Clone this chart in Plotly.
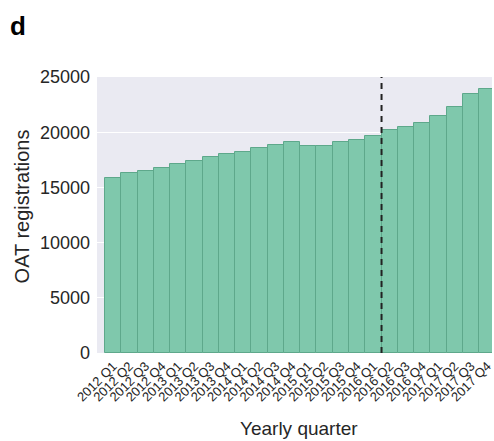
import plotly.graph_objects as go

# Quarterly OAT registrations, 2012 Q1 - 2017 Q4
quarters = [
    "2012 Q1", "2012 Q2", "2012 Q3", "2012 Q4",
    "2013 Q1", "2013 Q2", "2013 Q3", "2013 Q4",
    "2014 Q1", "2014 Q2", "2014 Q3", "2014 Q4",
    "2015 Q1", "2015 Q2", "2015 Q3", "2015 Q4",
    "2016 Q1", "2016 Q2", "2016 Q3", "2016 Q4",
    "2017 Q1", "2017 Q2", "2017 Q3", "2017 Q4",
]
registrations = [
    15860, 16270, 16500, 16800,
    17130, 17400, 17710, 17990,
    18240, 18530, 18830, 19130,
    18740, 18710, 19070, 19280,
    19690, 20190, 20490, 20830,
    21430, 22250, 23460, 23880,
]
y_ticks = [0, 5000, 10000, 15000, 20000, 25000]

# Position of the dashed marker (between 2016 Q1 and 2016 Q2)
marker_after = "2016 Q1"

W, H = 494, 441
L, R, T, B = 97, 0, 77, 88
FONT = "Liberation Sans, Arial, sans-serif"
TEXT = "#262626"

x_idx = list(range(len(quarters)))
split = quarters.index(marker_after) + 0.5

fig = go.Figure()
fig.add_trace(go.Bar(
    x=x_idx,
    y=registrations,
    width=1.0,
    marker=dict(color="#7fc8ac", line=dict(color="#5ea88b", width=1)),
    hoverinfo="x+y",
))

fig.add_shape(
    type="line", xref="x", yref="paper",
    x0=split, x1=split, y0=0, y1=1,
    line=dict(color="#222222", width=2, dash="6px,5px"),
    layer="above",
)

fig.update_layout(
    width=W, height=H,
    margin=dict(l=L, r=R, t=T, b=B, pad=0),
    paper_bgcolor="white",
    plot_bgcolor="#eaeaf2",
    bargap=0,
    showlegend=False,
    font=dict(family=FONT, color=TEXT),
    xaxis=dict(
        range=[-0.99, 23.29],
        tickmode="array",
        tickvals=x_idx,
        ticktext=quarters,
        tickangle=-45,
        tickfont=dict(size=13, color=TEXT),
        ticklabeloverflow="allow",
        ticklabelstandoff=2,
        showgrid=False,
        zeroline=False,
        showline=False,
        ticks="",
    ),
    yaxis=dict(
        range=[0, 25000],
        tickmode="array",
        tickvals=y_ticks,
        ticktext=[str(v) for v in y_ticks],
        tickfont=dict(size=18, color=TEXT),
        showgrid=True,
        gridcolor="white",
        gridwidth=1.2,
        zeroline=False,
        showline=False,
        ticks="",
        ticklabelstandoff=6,
    ),
    annotations=[
        dict(text="<b>d</b>", xref="paper", yref="paper",
             x=-L / (W - L - R) + 8 / (W - L - R), y=1 + (T - 26) / (H - T - B),
             xanchor="left", yanchor="middle", showarrow=False,
             font=dict(size=26, color="black", family=FONT)),
        dict(text="Yearly quarter", xref="paper", yref="paper",
             x=(300 - L) / (W - L - R), y=-(428 - (H - B)) / (H - T - B),
             xanchor="center", yanchor="middle", showarrow=False,
             font=dict(size=19, color=TEXT, family=FONT)),
        dict(text="OAT registrations", xref="paper", yref="paper",
             x=(22 - L) / (W - L - R), y=((H - B) - 206) / (H - T - B),
             xanchor="center", yanchor="middle", showarrow=False, textangle=-90,
             font=dict(size=20, color=TEXT, family=FONT)),
    ],
)

fig.write_html("out.html")
